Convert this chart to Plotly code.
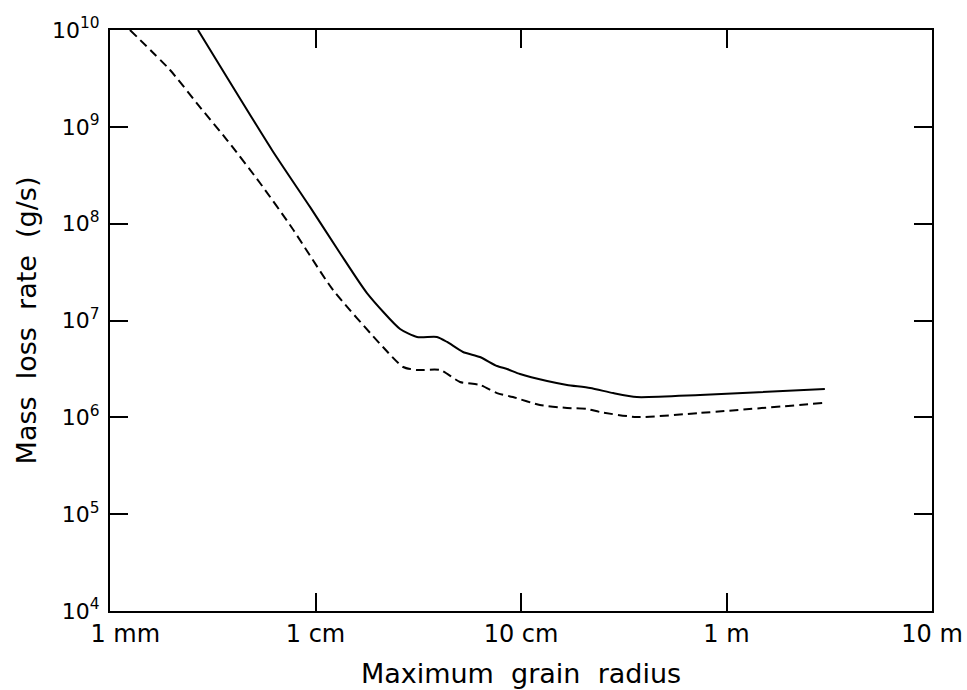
import plotly.graph_objects as go

# Maximum grain radius (m) and mass loss rate (g/s)
solid_r = [2.68e-3, 6.14e-3, 9.40e-3, 1.315e-2, 1.78e-2, 2.58e-2, 3.12e-2, 3.90e-2,
           4.37e-2, 5.22e-2, 6.31e-2, 7.64e-2, 8.55e-2, 9.89e-2, 0.134, 0.1675,
           0.217, 0.281, 0.366, 0.743, 3.01]
solid_m = [1.0e10, 5.77e8, 1.49e8, 4.98e7, 1.92e7, 8.17e6, 6.76e6, 6.76e6,
           6.00e6, 4.73e6, 4.20e6, 3.39e6, 3.16e6, 2.80e6, 2.37e6, 2.16e6,
           2.01e6, 1.78e6, 1.62e6, 1.70e6, 1.96e6]

dashed_r = [1.25e-3, 1.96e-3, 2.74e-3, 3.71e-3, 5.37e-3, 7.69e-3, 1.216e-2, 2.13e-2,
            2.67e-2, 3.12e-2, 4.04e-2, 5.05e-2, 6.31e-2, 7.64e-2, 9.14e-2, 0.1236,
            0.1675, 0.2094, 0.242, 0.366, 0.743, 3.01]
dashed_m = [1.0e10, 3.86e9, 1.60e9, 7.31e8, 2.63e8, 9.02e7, 2.07e7, 5.32e6,
            3.31e6, 3.08e6, 3.08e6, 2.32e6, 2.16e6, 1.78e6, 1.62e6, 1.34e6,
            1.25e6, 1.22e6, 1.135e6, 1.007e6, 1.11e6, 1.41e6]

x_tickvals = [0.001, 0.01, 0.1, 1, 10]
x_ticktext = ["&nbsp;&nbsp;&nbsp;&nbsp;1 mm", "1 cm", "10 cm", "1 m", "10 m"]
y_tickvals = [1e4, 1e5, 1e6, 1e7, 1e8, 1e9, 1e10]
y_ticktext = ["10<sup>4</sup>", "10<sup>5</sup>", "10<sup>6</sup>", "10<sup>7</sup>",
              "10<sup>8</sup>", "10<sup>9</sup>", "10<sup>10</sup>"]

fig = go.Figure()
fig.add_trace(go.Scatter(x=solid_r, y=solid_m, mode="lines",
                         line=dict(color="black", width=2, shape="spline", smoothing=0.6),
                         showlegend=False))
fig.add_trace(go.Scatter(x=dashed_r, y=dashed_m, mode="lines",
                         line=dict(color="black", width=2, dash="9px,5px", shape="spline", smoothing=0.6),
                         showlegend=False))

font = "DejaVu Sans"
axis_common = dict(showline=True, linecolor="black", linewidth=2, mirror="ticks",
                   ticks="inside", ticklen=18, tickwidth=2, tickcolor="black",
                   showgrid=False, zeroline=False, automargin=False)

fig.update_layout(
    width=967, height=690,
    margin=dict(l=110, r=35, t=30, b=79),
    paper_bgcolor="white", plot_bgcolor="white",
    font=dict(family=font, size=24, color="black"),
    xaxis=dict(type="log", range=[-3, 1], tickvals=x_tickvals, ticktext=x_ticktext,
               tickfont=dict(family=font, size=24, color="black"),
               title=dict(text="Maximum  grain  radius", font=dict(family=font, size=27, color="black"),
                          standoff=17),
               **axis_common),
    yaxis=dict(type="log", range=[4, 10], tickvals=y_tickvals, ticktext=y_ticktext,
               tickfont=dict(family=font, size=22, color="black"), ticklabelstandoff=4,
               title=dict(text="Mass  loss  rate  (g/s)", font=dict(family=font, size=27, color="black"),
                          standoff=8),
               **axis_common),
)

fig.write_html("out.html", config={"displayModeBar": False},
               post_script="document.body.style.margin='0';document.body.style.overflow='hidden';")
